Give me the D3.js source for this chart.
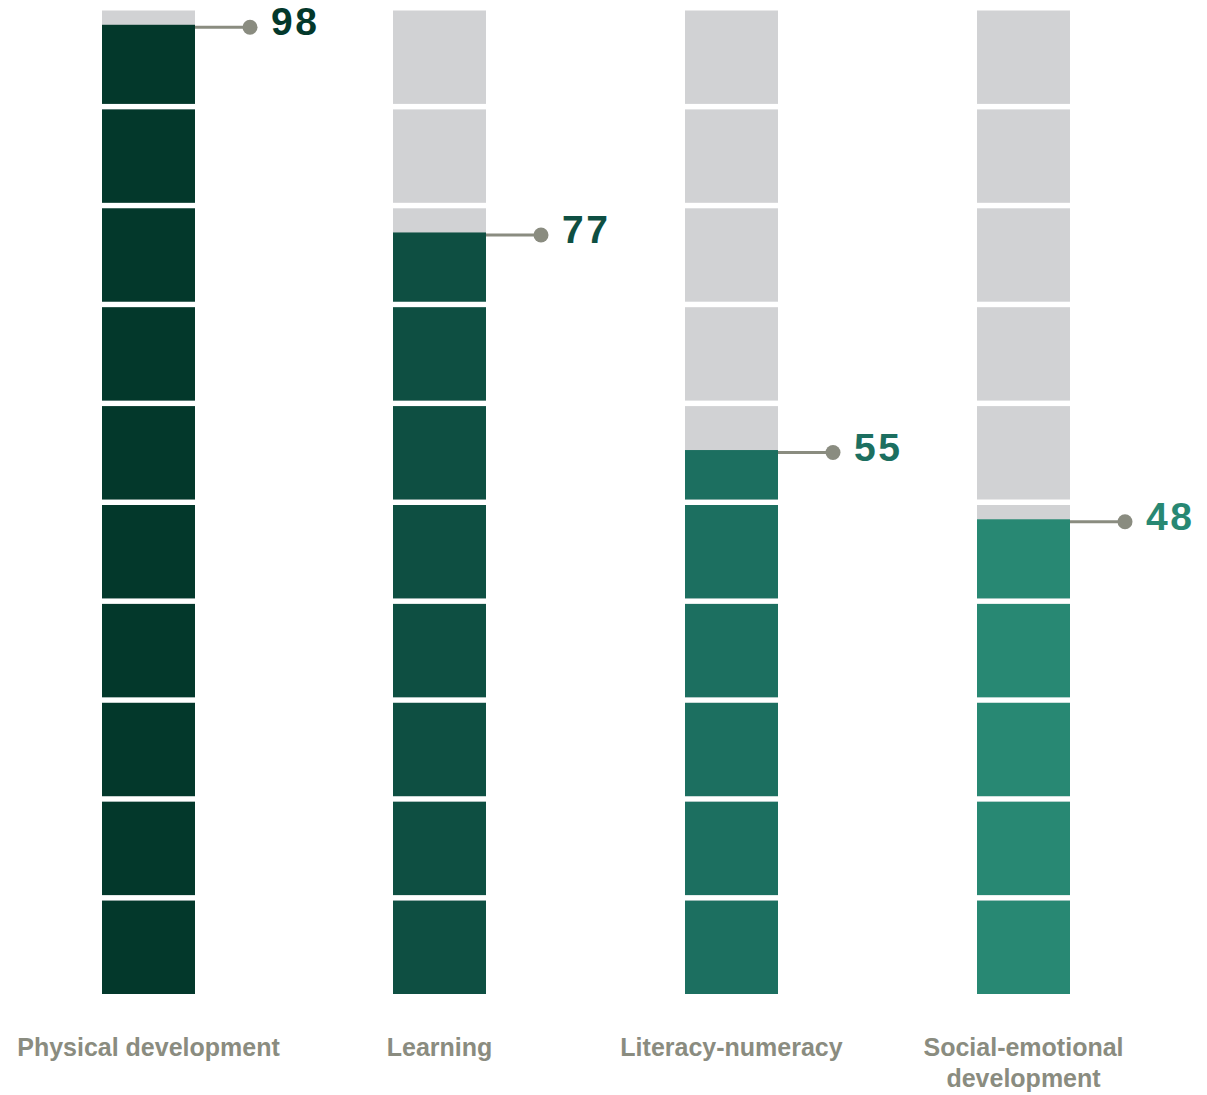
<!DOCTYPE html>
<html>
<head>
<meta charset="utf-8">
<script src="https://cdn.jsdelivr.net/npm/d3@7"></script>
<style>
  body { margin: 0; background: #fff; }
  svg { display: block; }
</style>
</head>
<body>
<div id="chart"></div>
<script>
// data
const categories = ["Physical development", "Learning", "Literacy-numeracy", "Social-emotional development"];
const labelLines = [["Physical development"], ["Learning"], ["Literacy-numeracy"], ["Social-emotional", "development"]];
const values = [98, 77, 55, 48];
const colors = ["#03382b", "#0e4f42", "#1c6f60", "#288873"];
const segmentSteps = [0, 10, 20, 30, 40, 50, 60, 70, 80, 90];

const width = 1207;
const height = 1095;
const barWidth = 93;
const gap = 5.5;
const grey = "#d1d2d4";
const leaderColor = "#8a8c80";

const svg = d3.select("#chart")
    .append("svg")
    .attr("width", width)
    .attr("height", height);

// scales
const x = d3.scalePoint()
    .domain(categories)
    .range([148, 1023.5]);

const y = d3.scaleLinear()
    .domain([0, 100])
    .range([994, 5]);

const columns = svg.selectAll(".column")
    .data(categories.map((c, i) => ({ cat: c, value: values[i], color: colors[i], lines: labelLines[i] })))
    .enter()
    .append("g")
    .attr("class", "column")
    .attr("transform", d => `translate(${Math.round(x(d.cat) - barWidth / 2)},0)`);

// grey background segments
columns.selectAll(".bg")
    .data(segmentSteps)
    .enter()
    .append("rect")
    .attr("class", "bg")
    .attr("x", 0)
    .attr("width", barWidth)
    .attr("y", s => y(s + 10) + gap)
    .attr("height", s => y(s) - y(s + 10) - gap)
    .attr("fill", grey);

// filled segments
columns.each(function(d) {
    const g = d3.select(this);
    const filled = segmentSteps.filter(s => d.value > s);
    const top = s => Math.max(y(Math.min(d.value, s + 10)), y(s + 10) + gap);
    g.selectAll(".fill")
        .data(filled)
        .enter()
        .append("rect")
        .attr("class", "fill")
        .attr("x", 0)
        .attr("width", barWidth)
        .attr("y", s => top(s))
        .attr("height", s => y(s) - top(s))
        .attr("fill", d.color);
});

// leader lines, dots and value labels
columns.append("line")
    .attr("x1", barWidth)
    .attr("x2", barWidth + 55)
    .attr("y1", d => y(d.value) + 2.5)
    .attr("y2", d => y(d.value) + 2.5)
    .attr("stroke", leaderColor)
    .attr("stroke-width", 3);

columns.append("circle")
    .attr("cx", barWidth + 55)
    .attr("cy", d => y(d.value) + 2.5)
    .attr("r", 7.5)
    .attr("fill", leaderColor);

columns.append("text")
    .attr("x", barWidth + 76)
    .attr("y", d => y(d.value) + 10.5)
    .attr("fill", d => d.color)
    .style("font-family", "'Liberation Sans', Arial, sans-serif")
    .style("font-weight", "bold")
    .style("font-size", "39px")
    .style("letter-spacing", "2.5px")
    .text(d => d.value);

// category labels
columns.append("text")
    .attr("x", barWidth / 2)
    .attr("y", 1056)
    .attr("text-anchor", "middle")
    .attr("fill", leaderColor)
    .style("font-family", "'Liberation Sans', Arial, sans-serif")
    .style("font-weight", "bold")
    .style("font-size", "25px")
    .each(function(d) {
        const t = d3.select(this);
        d.lines.forEach((line, i) => {
            t.append("tspan")
                .attr("x", barWidth / 2)
                .attr("dy", i === 0 ? 0 : 31)
                .text(line);
        });
    });
</script>
</body>
</html>
